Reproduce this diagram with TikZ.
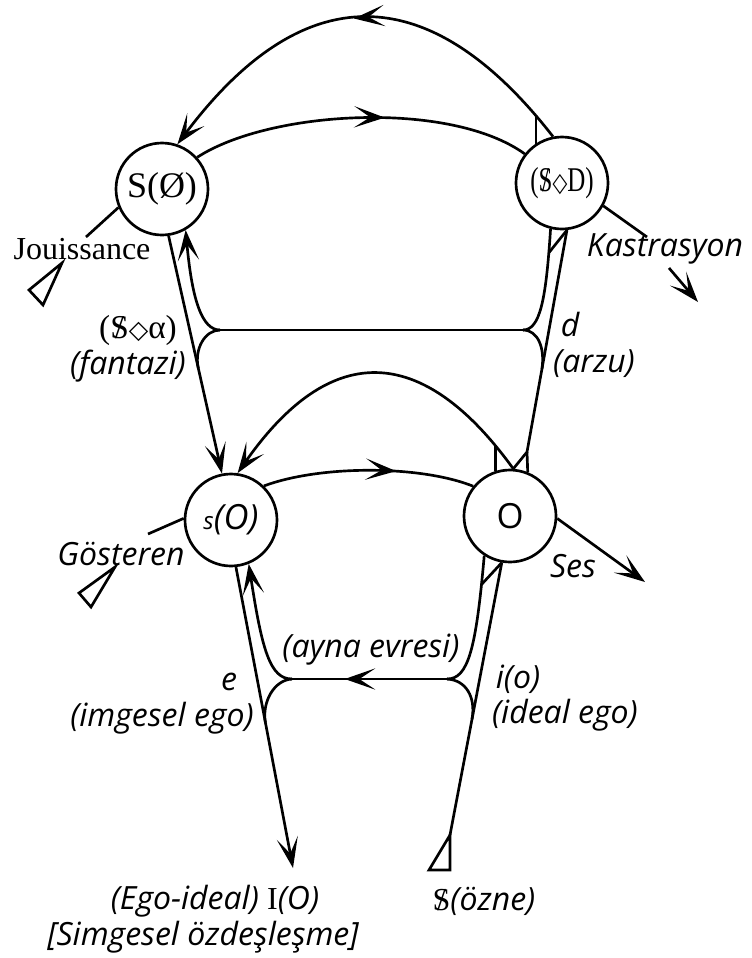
\documentclass[tikz,border=0pt]{standalone}
\usepackage{fontspec}
\setmainfont{Liberation Serif}
\newfontfamily\comic{Open Sans}
\newfontfamily\symf{DejaVu Sans}
\usetikzlibrary{arrows.meta,decorations.markings,calc}
\newcommand{\barS}{\ooalign{S\cr\hidewidth/\hidewidth\cr}}
\tikzset{
  hd/.tip={Stealth[length=23pt,width=16pt,inset=12pt]},
  circ/.style={circle,draw,line width=2pt,minimum size=69pt,inner sep=0pt},
  lbl/.style={font=\comic\itshape\fontsize{24}{26}\selectfont,inner sep=0pt},
  serif/.style={font=\fontsize{24}{26}\selectfont,inner sep=0pt},
  midarrow/.style={postaction={decorate,decoration={markings,mark=at position #1 with {\arrow{hd}}}}},
  tri/.style={line join=miter}
}
\begin{document}
\begin{tikzpicture}[x=0.75pt,y=-0.75pt,line width=2pt]
\useasboundingbox (0,0) rectangle (751,958);
% nodes
\node[circ,font=\fontsize{27}{29}\selectfont] (SA) at (162,189) {S(Ø)};
\node[circ,font=\fontsize{26}{28}\selectfont] (SD) at (562,183) {\scalebox{0.72}[1]{(\barS{\symf\fontsize{20}{20}\selectfont ◇}D)}};
\node[circ,font=\comic\itshape\fontsize{26}{28}\selectfont] (sO) at (231,520) {{\fontsize{18}{18}\selectfont s}(O)};
\node[circ,font=\comic\fontsize{26}{28}\selectfont] (O) at (510,516) {O};
% coordinates
\coordinate (JL1) at (220,330);
\coordinate (JR1) at (523,330);
\coordinate (JL2) at (292,679);
\coordinate (JR2) at (447,679);
\coordinate (Q) at (527,452);
\coordinate (IO) at (293,868);
\coordinate (T) at (450,835);
\coordinate (jl) at (86,237);
\coordinate (gl) at (148,534);
\coordinate (kl) at (647,237);
\coordinate (ka) at (669,268);
\coordinate (kb) at (698,302);
\coordinate (sesend) at (645,582);
% top big arc
\draw[midarrow=0.52,-{hd}] (SD.101) .. controls (428,-24) and (302,-22) .. coordinate[pos=0.045] (a2) (SA.71);
\draw (a2) -- (a2 |- SD.124);
% arc S(O/) -> (SD)
\draw[midarrow=0.57] (SA.42) .. controls (270,110) and (450,100) .. (SD.142);
% small arc O -> s(O)
\draw[-{hd}] (O.86) .. controls (421,341) and (329,342) .. coordinate[pos=0.065] (a1) (sO.82);
\draw (a1) -- (a1 |- O.109);
% arc s(O) -> O
\draw[midarrow=0.63] (sO.46) .. controls (320,465) and (420,465) .. (O.141);
% upper left
\draw[-{hd}] (SA.-82) -- (sO.101);
\draw[-{hd}] (JL1) .. controls (202,330) and (192,300) .. (SA.-60);
\draw (JL1) .. controls (205,330) and (194,349) .. ($(SA.-82)!0.557!(sO.101)$);
\draw (JL1) -- (JR1);
% upper right
\draw (SD.276) -- (Q) -- (O.86);
\draw (Q) -- (O.68);
\draw (JR1) .. controls (540,330) and (546,300) .. coordinate[pos=0.88] (b1) (SD.256);
\draw (SD.276) -- (b1);
\draw (JR1) .. controls (538,330) and (545,348) .. ($(SD.276)!0.625!(Q)$);
% lower left
\draw[-{hd}] (sO.-84) -- (IO);
\draw[-{hd}] (JL2) .. controls (270,679) and (262,650) .. (sO.-68);
\draw (JL2) .. controls (274,680) and (262,702) .. ($(sO.-84)!0.515!(IO)$);
\draw[midarrow=0.66] (JR2) -- (JL2);
% lower right
\draw (O.260) -- (T);
\draw (JR2) .. controls (468,679) and (476,650) .. coordinate[pos=0.89] (b2) (O.237);
\draw (O.260) -- (b2);
\draw (JR2) .. controls (466,680) and (476,697) .. ($(O.260)!0.575!(T)$);
\draw[tri] (T) -- (450,870) -- (429,870) -- cycle;
% side vectors
\draw (SA.203) -- (jl);
\draw[tri] (62,263) -- (29,290) -- (43,305) -- cycle;
\draw (sO.178) -- (gl);
\draw[tri] (115,567) -- (79,593) -- (91,607) -- cycle;
\draw (SD.-29) -- (kl);
\draw[-{hd}] (ka) -- (kb);
\draw[-{hd}] (O.-3) -- (sesend);
% labels
\node[serif] (tJ) at (82,249) {Jouissance};
\node[lbl] (tK) at (665,249) {Kastrasyon};
\node[lbl,font=\fontsize{25}{26}\selectfont] (tSa) at (138,330) {(\barS{\symf\fontsize{19}{19}\selectfont ◇}α)};
\node[lbl] (tF) at (128,366) {(fantazi)};
\node[lbl] (td) at (570,324) {d};
\node[lbl] (tA) at (594,364) {(arzu)};
\node[lbl] (tG) at (121,554) {Gösteren};
\node[lbl] (tS) at (573,566) {Ses};
\node[lbl] (tAy) at (371,650) {(ayna evresi)};
\node[lbl] (te) at (229,682) {e};
\node[lbl] (tIe) at (162,718) {(imgesel ego)};
\node[lbl] (tio) at (518,679) {i(o)};
\node[lbl] (tIde) at (565,715) {(ideal ego)};
\node[lbl] (tEgo) at (215,901) {(Ego-ideal) {\rmfamily\upshape I}(O)};
\node[lbl] (tSim) at (203,937) {[Simgesel özdeşleşme]};
\node[lbl] (tOz) at (484,901) {{\rmfamily\upshape\barS}(özne)};
\end{tikzpicture}
\end{document}
